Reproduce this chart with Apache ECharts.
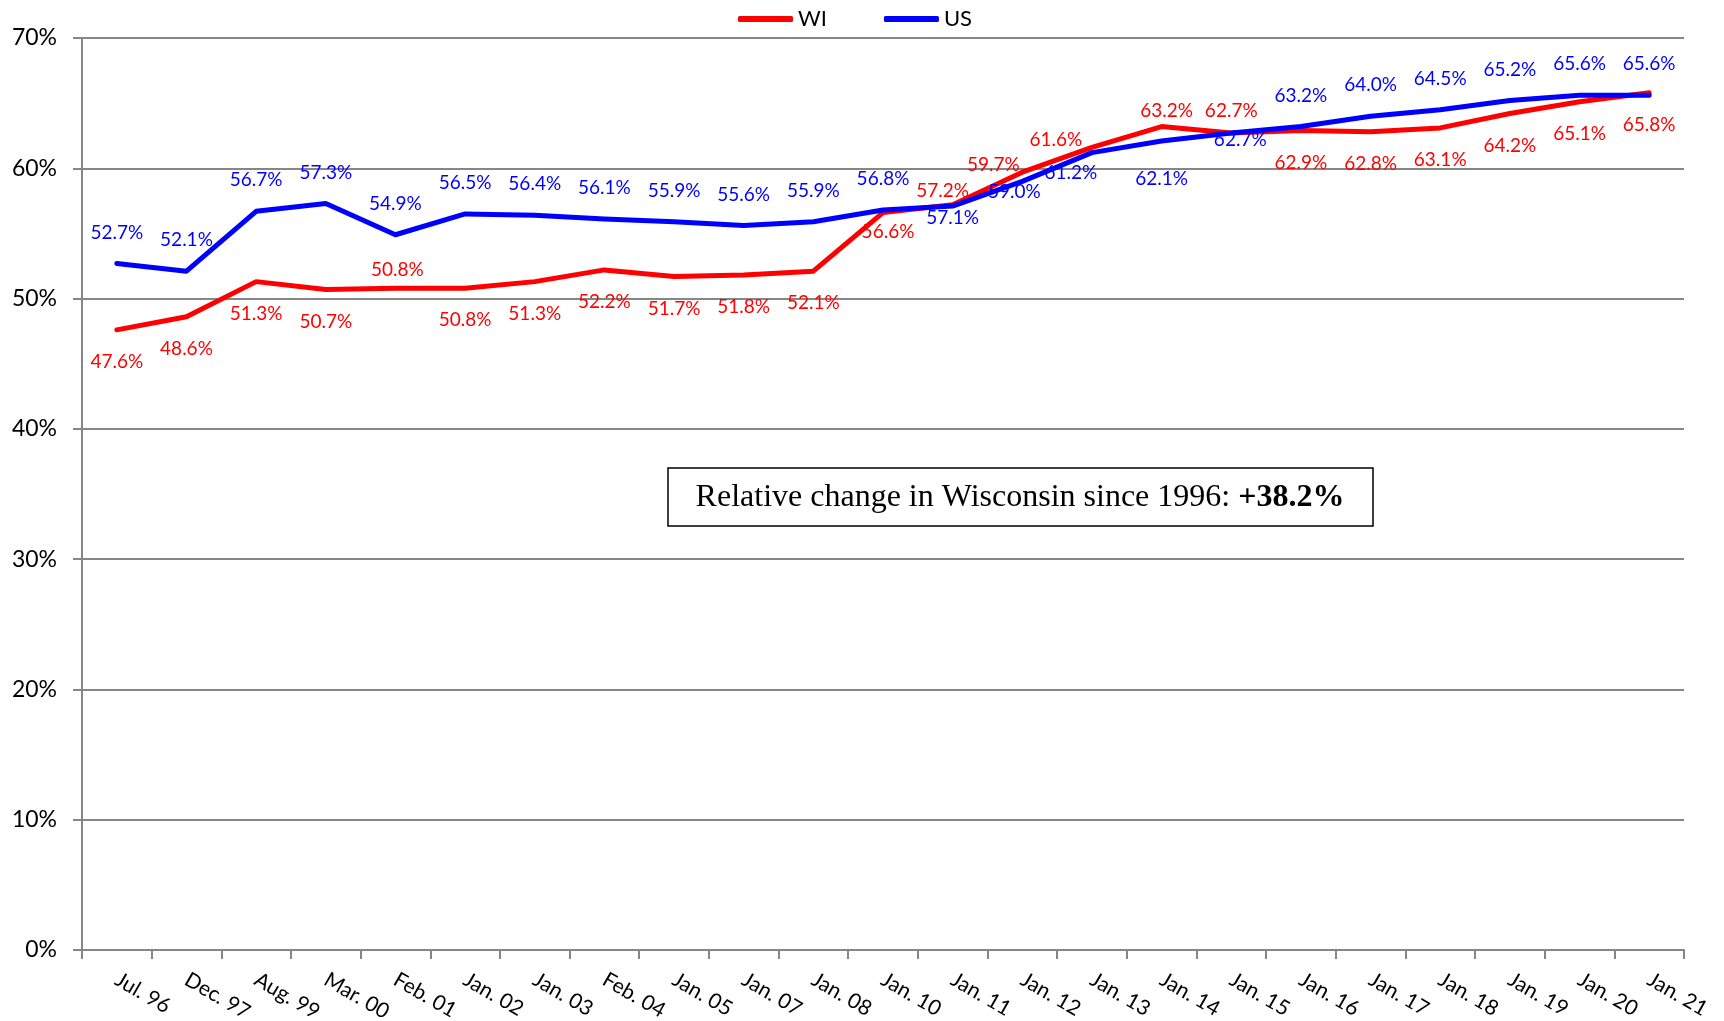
<!DOCTYPE html>
<html>
<head>
<meta charset="utf-8">
<title>WI vs US</title>
<script src="https://cdn.jsdelivr.net/npm/echarts@6/dist/echarts.min.js"></script>
<style>
	html, body { margin: 0; padding: 0; background: #fff; }
	#chart { width: 1724px; height: 1021px; }
</style>
</head>
<body>
<div id="chart"></div>
<script>
var categories = ['Jul. 96', 'Dec. 97', 'Aug. 99', 'Mar. 00', 'Feb. 01', 'Jan. 02', 'Jan. 03', 'Feb. 04',
	'Jan. 05', 'Jan. 07', 'Jan. 08', 'Jan. 10', 'Jan. 11', 'Jan. 12', 'Jan. 13', 'Jan. 14', 'Jan. 15',
	'Jan. 16', 'Jan. 17', 'Jan. 18', 'Jan. 19', 'Jan. 20', 'Jan. 21'];
var wiValues = [47.6, 48.6, 51.3, 50.7, 50.8, 50.8, 51.3, 52.2, 51.7, 51.8, 52.1, 56.6, 57.2, 59.7,
	61.6, 63.2, 62.7, 62.9, 62.8, 63.1, 64.2, 65.1, 65.8];
var usValues = [52.7, 52.1, 56.7, 57.3, 54.9, 56.5, 56.4, 56.1, 55.9, 55.6, 55.9, 56.8, 57.1, 59.0,
	61.2, 62.1, 62.7, 63.2, 64.0, 64.5, 65.2, 65.6, 65.6];
var yMin = 0, yMax = 70, yStep = 10;
var noteText = 'Relative change in Wisconsin since 1996: ';
var noteValue = '+38.2%';

// label placement (pixel nudges from the point), most sit under WI / over US
var wiNudge = { 4: [2, -18], 11: [5, 19], 12: [-10, -14], 13: [-29, -7], 14: [-36, -8], 15: [5, -16], 16: [0, -22] };
var usNudge = { 12: [0, 12], 13: [-8, 11], 14: [-21, 20], 15: [0, 38], 16: [9, 7] };

function buildData(values, base, nudge) {
	return values.map(function (v, i) {
		return { value: v, label: { offset: nudge[i] || base } };
	});
}

var labelFont = 'Lato, "Open Sans", sans-serif';

function lineSeries(name, color, values, base, nudge) {
	return {
		name: name,
		type: 'line',
		data: buildData(values, base, nudge),
		symbol: 'circle',
		symbolSize: 1,
		showSymbol: true,
		lineStyle: { color: color, width: 5, cap: 'round', join: 'round' },
		itemStyle: { color: color },
		emphasis: { disabled: true },
		label: {
			show: true,
			position: 'inside',
			color: color,
			fontFamily: labelFont,
			fontSize: 19,
			formatter: function (p) { return p.value.toFixed(1) + '%'; }
		},
		z: name == 'US' ? 3 : 2
	};
}

var chart = echarts.init(document.getElementById('chart'));
var option = {
	animation: false,
	backgroundColor: '#fff',
	legend: {
		left: 733,
		top: 3,
		icon: 'roundRect',
		itemWidth: 55,
		itemHeight: 6,
		itemGap: 57,
		textStyle: { color: '#000', fontFamily: labelFont, fontSize: 22 },
		data: ['WI', 'US']
	},
	grid: {
		left: 82,
		right: 40,
		top: 38,
		bottom: 71,
		containLabel: false,
		outerBoundsMode: 'none'
	},
	xAxis: {
		type: 'category',
		data: categories,
		boundaryGap: true,
		axisLine: { show: true, lineStyle: { color: '#868686', width: 2 } },
		axisTick: { show: true, length: 9, alignWithLabel: false, lineStyle: { color: '#868686', width: 2 } },
		axisLabel: {
			interval: 0,
			rotate: -30,
			margin: 28,
			color: '#000',
			fontFamily: labelFont,
			fontSize: 21
		},
		splitLine: { show: false }
	},
	yAxis: {
		type: 'value',
		min: yMin,
		max: yMax,
		interval: yStep,
		axisLine: { show: true, lineStyle: { color: '#868686', width: 2 } },
		axisTick: { show: true, length: 9, lineStyle: { color: '#868686', width: 2 } },
		axisLabel: {
			margin: 25,
			color: '#000',
			fontFamily: labelFont,
			fontSize: 23,
			formatter: '{value}%'
		},
		splitLine: { show: true, lineStyle: { color: '#868686', width: 2 } }
	},
	graphic: [{
		type: 'rect',
		shape: { x: 668, y: 468, width: 705, height: 58 },
		style: { fill: '#fff', stroke: '#000', lineWidth: 1.5 },
		z: 10
	}, {
		type: 'text',
		x: 1020,
		y: 498,
		z: 11,
		style: {
			text: '{r|' + noteText + '}{b|' + noteValue + '}',
			align: 'center',
			verticalAlign: 'middle',
			rich: {
				r: { fontFamily: '"Liberation Serif", serif', fontSize: 32, color: '#000' },
				b: { fontFamily: '"Liberation Serif", serif', fontSize: 32, fontWeight: 'bold', color: '#000' }
			}
		}
	}],
	series: [
		lineSeries('WI', '#ff0000', wiValues, [0, 32], wiNudge),
		lineSeries('US', '#0000ff', usValues, [0, -31], usNudge)
	]
};
chart.setOption(option);

window.addEventListener('resize', function () {
	chart.resize();
});
</script>
</body>
</html>
